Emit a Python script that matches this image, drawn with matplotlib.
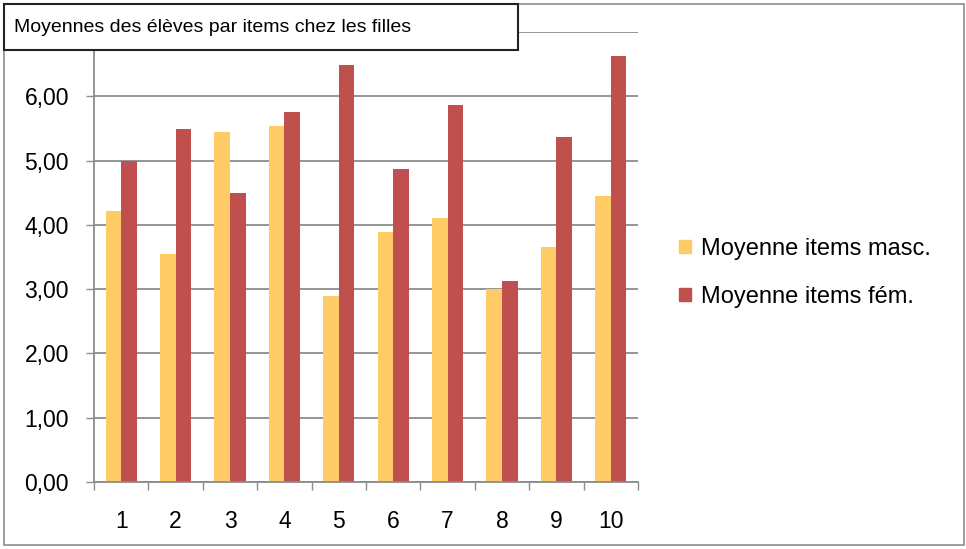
import matplotlib.pyplot as plt
from matplotlib.patches import Rectangle, Patch
import numpy as np

items = ["1", "2", "3", "4", "5", "6", "7", "8", "9", "10"]
moy_masc = [4.22, 3.55, 5.44, 5.54, 2.89, 3.89, 4.10, 3.00, 3.66, 4.45]
moy_fem = [4.99, 5.49, 4.50, 5.75, 6.49, 4.87, 5.87, 3.12, 5.37, 6.62]
y_ticks = [0, 1, 2, 3, 4, 5, 6, 7]

W, H = 966, 549
grey = "#8c8c8c"
plt.rcParams["font.family"] = ["Liberation Sans", "DejaVu Sans"]


def main():
    fig = plt.figure(figsize=(W / 100, H / 100), dpi=100)
    ax = fig.add_axes([94 / W, 1 - 482 / H, 544 / W, 450 / H])

    x = np.arange(len(items))
    bw = 0.285
    ax.bar(x - bw / 2, moy_masc, bw, color="#ffcb66", label="Moyenne items masc.")
    ax.bar(x + bw / 2, moy_fem, bw, color="#c0504d", label="Moyenne items fém.")

    ax.set_xlim(-0.5, len(items) - 0.5)
    ax.set_ylim(0, 7)
    ax.set_axisbelow(True)
    ax.yaxis.grid(True, color=grey, linewidth=1.3)

    # le 7,00 est caché par la boîte du titre dans l'original
    ax.set_yticks(y_ticks)
    ax.set_yticklabels([f"{v:.2f}".replace(".", ",") if v < 7 else "" for v in y_ticks])
    ax.set_xticks(x)
    ax.set_xticklabels(items)
    ax.set_xticks(np.arange(-0.5, len(items)), minor=True)
    ax.tick_params(axis="x", which="major", length=0, pad=20, labelsize=16.5)
    ax.tick_params(axis="x", which="minor", length=6, width=1, color=grey, direction="out")
    ax.tick_params(axis="y", length=6, width=1, color=grey, pad=12, labelsize=16.5)

    for s in ["top", "right"]:
        ax.spines[s].set_visible(False)
    for s in ["left", "bottom"]:
        ax.spines[s].set_color(grey)
        ax.spines[s].set_linewidth(1.3)

    # cadre extérieur
    fig.add_artist(Rectangle((4 / W, 1 - 545 / H), 960 / W, 541 / H,
                             transform=fig.transFigure, fill=False,
                             edgecolor=grey, linewidth=1.2))
    # boîte du titre
    fig.add_artist(Rectangle((4 / W, 1 - 50 / H), 514 / W, 46 / H,
                             transform=fig.transFigure, facecolor="white",
                             edgecolor="#222222", linewidth=1.5, zorder=5))
    fig.text(14 / W, 1 - 27 / H, "Moyennes des élèves par items chez les filles",
             fontsize=14, va="center", ha="left", zorder=6)

    handles = [Patch(color="#ffcb66"), Patch(color="#c0504d")]
    fig.legend(handles, ["Moyenne items masc.", "Moyenne items fém."],
               loc="center left", bbox_to_anchor=(679 / W, 1 - 273 / H),
               frameon=False, fontsize=17, handlelength=0.5, handleheight=0.5,
               handletextpad=0.45, labelspacing=1.1, borderpad=0, borderaxespad=0)

    fig.savefig("out.png", dpi=100)


if __name__ == "__main__":
    main()
